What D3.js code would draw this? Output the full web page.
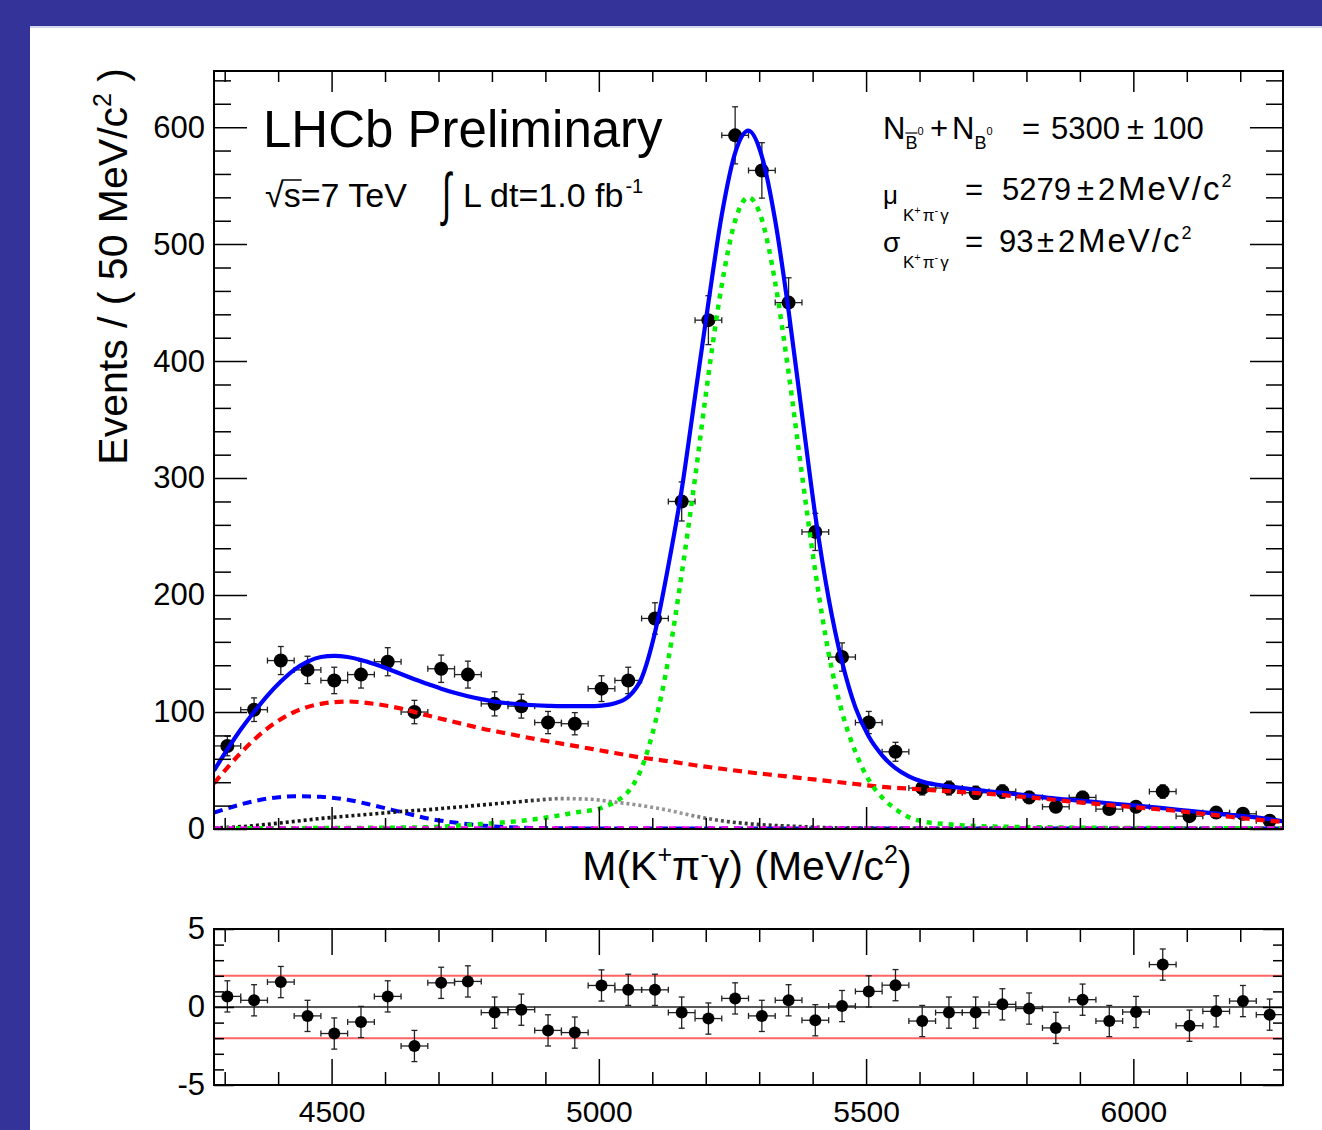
<!DOCTYPE html>
<html><head><meta charset="utf-8">
<script src="https://cdn.jsdelivr.net/npm/d3@7"></script>
<style>
html,body{margin:0;padding:0;background:#333399;}
svg{display:block;}
text{font-family:"Liberation Sans",Arial,Helvetica,sans-serif;fill:#000;}
</style></head><body>
<svg id="c" width="1322" height="1130"></svg>
<script>
// ---------------- data ----------------
const binCenters = [4305,4355,4405,4455,4505,4555,4605,4655,4705,4755,4805,4855,4905,4955,5005,5055,5105,5155,5205,5255,
                    5305,5355,5405,5455,5505,5555,5605,5655,5705,5755,5805,5855,5905,5955,6005,6055,6105,6155,6205,6255];
const binHalfWidth = 25;
const counts = [71,102,144,136,127,132,143,100,137,132,107,105,91,90,120,127,180,280,435,593,
                563,450,254,147,91,66,35,35,31,32,27,19,27,17,19,32,11,14,13,7];
const countErrors = [8.4,10.1,12,11.7,11.3,11.5,12,10,11.7,11.5,10.3,10.2,9.5,9.5,11,11.3,13.4,16.7,20.9,24.4,
                     23.7,21.2,15.9,12.1,9.5,8.1,5.9,5.9,5.6,5.7,5.2,4.4,5.2,4.1,4.4,5.7,3.3,3.7,3.6,2.6];
const pulls = [0.68,0.43,1.6,-0.57,-1.7,-0.96,0.68,-2.5,1.55,1.64,-0.36,-0.17,-1.5,-1.64,1.38,1.1,1.1,-0.36,-0.74,0.55,
               -0.57,0.43,-0.85,0.06,1.0,1.4,-0.9,-0.36,-0.36,0.17,-0.1,-1.34,0.47,-0.9,-0.32,2.72,-1.2,-0.28,0.38,-0.49];
const pullError = 1;
const pullBands = [-2, 2];

// fit curves
const totalX = [4280,4305,4330,4355,4380,4405,4430,4455,4480,4505,4530,4555,4580,4605,4630,4655,4680,4705,4730,4755,
                4780,4805,4830,4855,4880,4905,4930,4955,4980,5005,5030,5055,5080,5105,5130,5155,5180,5205,5230,5255,
                5280,5305,5330,5355,5380,5405,5430,5455,5480,5505,5530,5555,5580,5605,5630,5655,5680,5705,
                5755,5805,5855,5905,5955,6005,6055,6105,6155,6205,6255,6280];
const totalY = [50,68,85,100,114,126,136,143,147,148,147,144.5,141,137,132.5,128,124,120,116.5,113.5,
                111,109,107.5,106.5,105.8,105.3,105,105,105,105.5,107.5,113,129,168,225,290,370,450,525,578,
                597,575,520,443,355,268,197,143,104,79,63,52,45,40.5,38,36.5,35,33.5,
                31,28.5,26,24,22,20,17.8,15.5,13.2,11,8.5,6.5];
const signalX = [4280,4480,4630,4705,4755,4805,4855,4905,4955,5005,5030,5055,5080,5105,5130,5155,5180,5205,5230,5255,
                 5280,5305,5330,5355,5380,5405,5430,5455,5480,5505,5530,5555,5580,5605,5655,5705,5780,5880,6000,6280];
const signalY = [0.6,0.8,1.2,2,3.5,5,7,10,14,18,23,32,52,90,145,218,300,388,465,520,
                 540,521,467,390,303,220,150,100,66,42,27,17,10,6.5,4,2.5,1.8,1.2,0.8,0.6];
const partRecoX = [4280,4330,4380,4430,4480,4530,4580,4630,4680,4730,4780,4830,4880,4930,4980,5030,5080,5130,5180,5230,
                   5280,5330,5380,5430,5480,5530,5580,5630,5680,5730,5780,5830,5880,5930,5980,6030,6080,6130,6180,6230,6280];
const partRecoY = [39,65,86,100,107,109,107,103,97,91.5,86,81.5,77,73,69,65,61,58,54.5,51.5,
                   48.5,46,43.5,41,38.5,36,34.5,33,31.5,30,28,26,23.5,21.5,19.5,17.5,15.5,13,10.5,8,6];
const lowMassX = [4280,4330,4380,4430,4480,4530,4580,4630,4680,4730,4780,4830,4880,4930,5030,5280,6280];
const lowMassY = [14,21,26,28,27.5,25,20,14.5,9,5.5,3,1.5,0.9,0.6,0.5,0.5,0.5];
const peakingX = [4280,4330,4380,4430,4480,4530,4580,4630,4680,4730,4780,4830,4880,4930,4980,5030,5080,5130,5180,5230,
                  5280,5330,5380,5430,5530,5630,6280];
const peakingY = [0.8,2,4,6.5,9,11,13,15,16.5,18.5,20.5,22.5,24.5,26,25.5,23,20,16,11,7,
                  4.5,3,2,1.2,0.7,0.5,0.5];
const combX = [4280,6280];
const combY = [1.1,1.1];

const yMajorTicks = [0,100,200,300,400,500,600];
const xMajorTicks = [4500,5000,5500,6000];
const pullTicks = [-5,0,5];

// ---------------- drawing ----------------
const W=1322,H=1130;
const svg=d3.select("#c");
svg.append("rect").attr("width",W).attr("height",H).attr("fill","#333399");
svg.append("rect").attr("x",30).attr("y",27).attr("width",W-30).attr("height",H-27).attr("fill","#fff");
svg.append("rect").attr("x",30).attr("y",26).attr("width",W-30).attr("height",2).attr("fill","#d4d7ea");

const mL=214,mR=1283,mT=71,mB=829;
const rT=929,rB=1085;
const x=d3.scaleLinear().domain([4280,6280]).range([mL,mR]);
const y=d3.scaleLinear().domain([0,648]).range([mB,mT]);
const yr=d3.scaleLinear().domain([-5,5]).range([rB,rT]);

const defs=svg.append("defs");
defs.append("clipPath").attr("id","clipMain").append("rect").attr("x",mL).attr("y",mT).attr("width",mR-mL).attr("height",mB-mT);
defs.append("clipPath").attr("id","clipRes").append("rect").attr("x",mL).attr("y",rT).attr("width",mR-mL).attr("height",rB-rT);
const grad=defs.append("linearGradient").attr("id","gdot").attr("gradientUnits","userSpaceOnUse")
  .attr("x1",mL).attr("x2",mR).attr("y1",0).attr("y2",0);
[[0,"#111"],[0.29,"#1a1a1a"],[0.33,"#8a8a8a"],[0.44,"#9a9a9a"],[0.49,"#333"],[1,"#333"]].forEach(s=>
  grad.append("stop").attr("offset",s[0]).attr("stop-color",s[1]));

// --- data points (main) ---
const pts=binCenters.map((m,i)=>({m,v:counts[i],e:countErrors[i]}));
const gPts=svg.append("g").attr("clip-path","url(#clipMain)").attr("stroke","#222").attr("stroke-width",1.3);
function errBars(g,data,xs,ys,val,err){
  g.selectAll(null).data(data).join("line")
    .attr("x1",d=>xs(d.m)).attr("x2",d=>xs(d.m)).attr("y1",d=>ys(val(d)-err(d))).attr("y2",d=>ys(val(d)+err(d)));
  g.selectAll(null).data(data).join("line")
    .attr("x1",d=>xs(d.m-binHalfWidth)).attr("x2",d=>xs(d.m+binHalfWidth)).attr("y1",d=>ys(val(d))).attr("y2",d=>ys(val(d)));
  ["-","+"].forEach(sg=>{
    const s=sg==="-"?-1:1;
    g.selectAll(null).data(data).join("line")
      .attr("x1",d=>xs(d.m)-3).attr("x2",d=>xs(d.m)+3).attr("y1",d=>ys(val(d)+s*err(d))).attr("y2",d=>ys(val(d)+s*err(d)));
    g.selectAll(null).data(data).join("line")
      .attr("x1",d=>xs(d.m+s*binHalfWidth)).attr("x2",d=>xs(d.m+s*binHalfWidth)).attr("y1",d=>ys(val(d))-3).attr("y2",d=>ys(val(d))+3);
  });
}
errBars(gPts,pts,x,y,d=>d.v,d=>d.e);
gPts.selectAll("circle").data(pts).join("circle").attr("cx",d=>x(d.m)).attr("cy",d=>y(d.v)).attr("r",7)
  .attr("fill","#000").attr("stroke","none");

// --- curves ---
const line=d3.line().x(d=>x(d[0])).y(d=>y(d[1])).curve(d3.curveMonotoneX);
const zip=(a,b)=>a.map((v,i)=>[v,b[i]]);
const gCurves=svg.append("g").attr("clip-path","url(#clipMain)").attr("fill","none");
gCurves.append("path").attr("d",line(zip(totalX,totalY))).attr("stroke","#0000ff").attr("stroke-width",4.2);
gCurves.append("path").attr("d",line(zip(partRecoX,partRecoY))).attr("stroke","#ff0000").attr("stroke-width",4.2).attr("stroke-dasharray","9,6");
gCurves.append("path").attr("d",line(zip(lowMassX,lowMassY))).attr("stroke","#0000ff").attr("stroke-width",4).attr("stroke-dasharray","9,6");
gCurves.append("path").attr("d",line(zip(peakingX,peakingY))).attr("stroke","url(#gdot)").attr("stroke-width",3.6).attr("stroke-dasharray","3,3");
gCurves.append("path").attr("d",line(zip(signalX,signalY))).attr("stroke","#00ee00").attr("stroke-width",4.5).attr("stroke-dasharray","5,6");
gCurves.append("path").attr("d",line(zip(combX,combY))).attr("stroke","#ee00ee").attr("stroke-width",3).attr("stroke-dasharray","7,6");

// --- axes helper ---
function axis(gen,tr,vals,size,labels,pad,fs){
  const a=gen.tickValues(vals).tickSize(size).tickPadding(pad||9).tickFormat(labels?(d=>String(d)):(()=>""));
  const g=svg.append("g").attr("transform",tr).call(a);
  g.select(".domain").remove();
  g.selectAll("line").attr("stroke","#000").attr("stroke-width",1.5);
  g.selectAll("text").attr("font-size",fs||31).attr("fill","#000").style("font-family","'Liberation Sans',Arial,sans-serif");
  return g;
}
const yMinor=d3.range(20,641,20).filter(v=>v%100!==0);
const xMinor=d3.range(4300,6281,100).filter(v=>v%500!==0);
axis(d3.axisLeft(y),`translate(${mL},0)`,yMajorTicks,-33,true,9);
axis(d3.axisLeft(y),`translate(${mL},0)`,yMinor,-17,false);
axis(d3.axisRight(y),`translate(${mR},0)`,yMajorTicks,-33,false);
axis(d3.axisRight(y),`translate(${mR},0)`,yMinor,-17,false);
axis(d3.axisTop(x),`translate(0,${mT})`,xMajorTicks,-21,false);
axis(d3.axisTop(x),`translate(0,${mT})`,xMinor,-11,false);
axis(d3.axisBottom(x),`translate(0,${mB})`,xMajorTicks,-22,false);
axis(d3.axisBottom(x),`translate(0,${mB})`,xMinor,-11,false);
svg.append("rect").attr("x",mL).attr("y",mT).attr("width",mR-mL).attr("height",mB-mT)
  .attr("fill","none").attr("stroke","#000").attr("stroke-width",2);

// --- residual panel ---
pullBands.forEach(b=>svg.append("line").attr("x1",mL).attr("x2",mR).attr("y1",yr(b)).attr("y2",yr(b))
  .attr("stroke","#ff3030").attr("stroke-opacity",0.75).attr("stroke-width",2));
svg.append("line").attr("x1",mL).attr("x2",mR).attr("y1",yr(0)).attr("y2",yr(0)).attr("stroke","#222").attr("stroke-width",1.6);
const rpts=binCenters.map((m,i)=>({m,v:pulls[i],e:pullError}));
const gR=svg.append("g").attr("clip-path","url(#clipRes)").attr("stroke","#222").attr("stroke-width",1.3);
errBars(gR,rpts,x,yr,d=>d.v,d=>d.e);
gR.selectAll("circle").data(rpts).join("circle").attr("cx",d=>x(d.m)).attr("cy",d=>yr(d.v)).attr("r",6)
  .attr("fill","#000").attr("stroke","none");
const pMinor=d3.range(-4,5,1).filter(v=>v!==0);
axis(d3.axisLeft(yr),`translate(${mL},0)`,pullTicks,-20,true,9);
axis(d3.axisLeft(yr),`translate(${mL},0)`,pMinor,-10,false);
axis(d3.axisRight(yr),`translate(${mR},0)`,pullTicks,-20,false);
axis(d3.axisRight(yr),`translate(${mR},0)`,pMinor,-10,false);
axis(d3.axisTop(x),`translate(0,${rT})`,xMajorTicks,-26,false);
axis(d3.axisTop(x),`translate(0,${rT})`,xMinor,-13,false);
axis(d3.axisBottom(x),`translate(0,${rB})`,xMajorTicks,-26,true,16,30);
axis(d3.axisBottom(x),`translate(0,${rB})`,xMinor,-13,false);
svg.append("rect").attr("x",mL).attr("y",rT).attr("width",mR-mL).attr("height",rB-rT)
  .attr("fill","none").attr("stroke","#000").attr("stroke-width",2);

// --- axis titles ---
const yt=svg.append("text").attr("transform","translate(127,68) rotate(-90)").attr("text-anchor","end").attr("font-size",41);
yt.append("tspan").text("Events / ( 50 MeV/c");
yt.append("tspan").attr("font-size",25).attr("dy",-16).text("2");
yt.append("tspan").attr("dy",16).text(" )");

const xt=svg.append("text").attr("x",747).attr("y",880).attr("text-anchor","middle").attr("font-size",41);
xt.append("tspan").text("M(K");
xt.append("tspan").attr("font-size",25).attr("dy",-17).text("+");
xt.append("tspan").attr("dy",17).text("π");
xt.append("tspan").attr("font-size",25).attr("dy",-17).text("-");
xt.append("tspan").attr("dy",17).text("γ) (MeV/c");
xt.append("tspan").attr("font-size",25).attr("dy",-17).text("2");
xt.append("tspan").attr("dy",17).text(")");

// --- labels top-left ---
svg.append("text").attr("x",263).attr("y",147).attr("font-size",51).text("LHCb Preliminary");
const t2=svg.append("text").attr("x",265).attr("y",207).attr("font-size",34);
t2.append("tspan").text("√");
t2.append("tspan").text("s");
t2.append("tspan").text("=7 TeV");
{
  const n=t2.node();
  const a=n.getStartPositionOfChar(1).x, b=n.getEndPositionOfChar(1).x;
  svg.append("line").attr("x1",a-2).attr("x2",b+1).attr("y1",180).attr("y2",180).attr("stroke","#000").attr("stroke-width",1.5);
}
svg.append("text").attr("transform","translate(442,214) scale(1,1.7)").attr("font-size",34).text("∫");
const t3=svg.append("text").attr("x",463).attr("y",207).attr("font-size",34);
t3.append("tspan").text("L dt=1.0 fb");
t3.append("tspan").attr("font-size",20).attr("dy",-14).attr("dx",2).text("-1");

// --- labels top-right ---
const r1=svg.append("text").attr("y",139).attr("font-size",31);
r1.append("tspan").attr("x",883).text("N");
r1.append("tspan").attr("font-size",18).attr("dy",10).text("B");
r1.append("tspan").attr("font-size",11).attr("dy",-14).text("0");
r1.append("tspan").attr("x",930).attr("dy",4).text("+");
r1.append("tspan").attr("x",952).text("N");
r1.append("tspan").attr("font-size",18).attr("dy",10).text("B");
r1.append("tspan").attr("font-size",11).attr("dy",-14).text("0");
r1.append("tspan").attr("x",1022).attr("dy",4).text("=");
r1.append("tspan").attr("x",1051).text("5300");
r1.append("tspan").attr("x",1127).text("±");
r1.append("tspan").attr("x",1152).text("100");
{
  const n=r1.node();
  const a=n.getStartPositionOfChar(1).x, b=n.getEndPositionOfChar(1).x;
  svg.append("line").attr("x1",a).attr("x2",b).attr("y1",133).attr("y2",133).attr("stroke","#000").attr("stroke-width",1.2);
}

function subKpg(t,x0){
  t.append("tspan").attr("x",x0).attr("font-size",17).text("K");
  t.append("tspan").attr("font-size",11).attr("dy",-7).text("+");
  t.append("tspan").attr("font-size",17).attr("dy",7).attr("dx",2).text("π");
  t.append("tspan").attr("font-size",11).attr("dy",-7).text("-");
  t.append("tspan").attr("font-size",17).attr("dy",7).attr("dx",2).text("γ");
}
svg.append("text").attr("x",883).attr("y",204).attr("font-size",26).text("μ");
const r2s=svg.append("text").attr("y",221); subKpg(r2s,903);
const r2=svg.append("text").attr("y",200).attr("font-size",31);
r2.append("tspan").attr("x",965).text("=");
r2.append("tspan").attr("x",1002).text("5279");
r2.append("tspan").attr("x",1077).text("±");
r2.append("tspan").attr("x",1098).text("2");
r2.append("tspan").attr("x",1118).attr("font-size",33).attr("letter-spacing",2).text("MeV/c");
r2.append("tspan").attr("font-size",18).attr("dy",-13).attr("letter-spacing",0).text("2");

svg.append("text").attr("x",883).attr("y",252).attr("font-size",28).text("σ");
const r3s=svg.append("text").attr("y",268); subKpg(r3s,903);
const r3=svg.append("text").attr("y",252).attr("font-size",31);
r3.append("tspan").attr("x",999).text("93");
r3.append("tspan").attr("x",965).text("=");
r3.append("tspan").attr("x",1037).text("±");
r3.append("tspan").attr("x",1058).text("2");
r3.append("tspan").attr("x",1078).attr("font-size",33).attr("letter-spacing",2).text("MeV/c");
r3.append("tspan").attr("font-size",18).attr("dy",-13).attr("letter-spacing",0).text("2");
</script>
</body></html>
